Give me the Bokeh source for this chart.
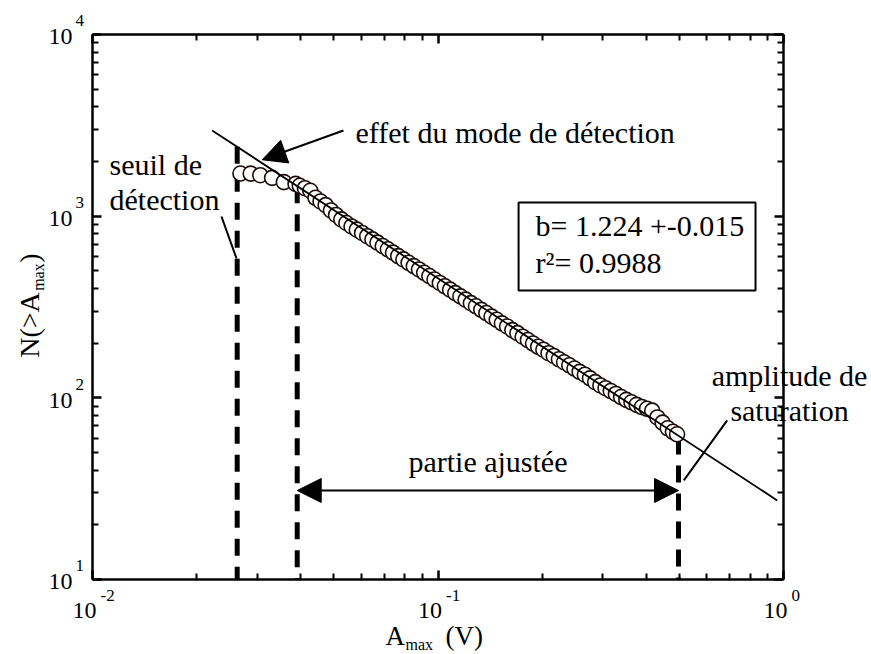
import math
from bokeh.plotting import figure
from bokeh.layouts import column
from bokeh.models import (LogAxis, FixedTicker, CustomJSTickFormatter, Label, Arrow,
                          NormalHead, BoxAnnotation, Range1d)
from bokeh.embed import file_html
from bokeh.resources import INLINE

# ---------------- data ----------------
amax = [0.0268, 0.0287, 0.0306, 0.0331, 0.0358, 0.0387, 0.0398, 0.0412, 0.0427, 0.0442,
        0.0457, 0.0473, 0.0490, 0.0507, 0.0525, 0.0543, 0.0562, 0.0582, 0.0603, 0.0624,
        0.0646, 0.0668, 0.0692, 0.0716, 0.0741, 0.0767, 0.0794, 0.0822, 0.0851, 0.0881,
        0.0912, 0.0944, 0.0977, 0.1012, 0.1047, 0.1084, 0.1122, 0.1161, 0.1202, 0.1245,
        0.1288, 0.1334, 0.1380, 0.1429, 0.1479, 0.1531, 0.1585, 0.1641, 0.1698, 0.1758,
        0.1820, 0.1884, 0.1950, 0.2018, 0.2089, 0.2163, 0.2239, 0.2317, 0.2399, 0.2483,
        0.2570, 0.2661, 0.2754, 0.2851, 0.2951, 0.3055, 0.3162, 0.3273, 0.3388, 0.3508,
        0.3631, 0.3758, 0.3890, 0.4027, 0.4169, 0.4315, 0.4467, 0.4624, 0.4786, 0.4920]
n_cum = [1717, 1715, 1680, 1625, 1540, 1505, 1470, 1425, 1380, 1262,
         1205, 1150, 1075, 1015, 960, 917, 878, 843, 808, 776,
         745, 715, 685, 657, 630, 603, 578, 554, 531, 509,
         488, 468, 448, 429, 411, 394, 377, 362, 347, 332,
         319, 305, 293, 280, 269, 257, 247, 236, 227, 217,
         208, 199, 191, 184, 176, 170, 163, 157, 151, 145,
         139, 134, 128, 122, 117, 113, 109, 105, 101, 97.5,
         94.5, 91.5, 89, 87, 85, 78, 73, 68, 65, 63]

# power-law fit line (b = 1.224)
fit_x = [0.02220, 0.9590]
fit_y = [2963, 27.25]

# vertical dashed markers: detection threshold, start of fit, saturation
marker_x = [0.02623, 0.03913, 0.4967]
marker_top = [2408, 1463, 60.5]
marker_bottom = [10, 10, 10]

x_tick_values = [0.01, 0.1, 1]
x_tick_exponents = ["-2", "-1", "0"]
y_tick_values = [10, 100, 1000, 10000]
y_tick_exponents = ["1", "2", "3", "4"]

FONT = "Liberation Serif"
W, H = 871, 654
XMIN, XMAX, YMIN, YMAX = 0.01, 1.0, 10.0, 10000.0
# axes box in canvas pixels
FL, FT, FW, FH = 92, 34, 691, 545
DX = FW / (math.log10(XMAX) - math.log10(XMIN))
DY = FH / (math.log10(YMAX) - math.log10(YMIN))

# ---------------- text layer (bottom), frame covers the whole canvas ----------------
x2_lo = 10 ** (math.log10(XMIN) - FL / DX)
x2_hi = 10 ** (math.log10(XMAX) + (W - FL - FW) / DX)
y2_hi = 10 ** (math.log10(YMAX) + FT / DY)
y2_lo = 10 ** (math.log10(YMIN) - (H - FT - FH) / DY)
q = figure(x_axis_type="log", y_axis_type="log",
           x_axis_location=None, y_axis_location=None,
           x_range=Range1d(x2_lo, x2_hi), y_range=Range1d(y2_lo, y2_hi),
           frame_width=W, frame_height=H,
           min_border_left=0, min_border_right=0, min_border_top=0, min_border_bottom=0,
           output_backend="svg", toolbar_location=None,
           background_fill_color="white", border_fill_color="white",
           outline_line_color=None)
q.grid.visible = False
try:
    q.frame_align = False  # keep this layer's frame on the full canvas
except Exception:
    pass

# ---------------- main plot (top, transparent): axes + data ----------------
p = figure(x_axis_type="log", y_axis_type="log",
           x_range=Range1d(XMIN, XMAX), y_range=Range1d(YMIN, YMAX),
           frame_width=FW, frame_height=FH,
           min_border_left=FL, min_border_right=W - FL - FW,
           min_border_top=FT, min_border_bottom=H - FT - FH,
           output_backend="svg", toolbar_location=None,
           background_fill_color=None, border_fill_color=None,
           outline_line_color=None)
p.grid.visible = False

x_minor = [m * 10.0 ** e for e in (-2, -1) for m in range(2, 10)]
y_minor = [m * 10.0 ** e for e in (1, 2, 3) for m in range(2, 10)]

p.add_layout(LogAxis(), "above")
p.add_layout(LogAxis(), "right")

blank = CustomJSTickFormatter(code="return ''")
for ax in p.xaxis:
    ax.ticker = FixedTicker(ticks=x_tick_values, minor_ticks=x_minor)
for ax in p.yaxis:
    ax.ticker = FixedTicker(ticks=y_tick_values, minor_ticks=y_minor)
for ax in list(p.xaxis) + list(p.yaxis):
    ax.formatter = blank
    ax.axis_label = None
    ax.axis_line_width = 2.5
    ax.axis_line_color = "black"
    ax.major_tick_in = 9
    ax.major_tick_out = 0
    ax.minor_tick_in = 6
    ax.minor_tick_out = 0
    ax.major_tick_line_width = 2.5
    ax.minor_tick_line_width = 2
    ax.major_tick_line_color = "black"
    ax.minor_tick_line_color = "black"
    ax.major_label_standoff = 0
    ax.major_label_text_font_size = "1px"

# dashed markers
p.segment(x0=marker_x, y0=marker_top, x1=marker_x, y1=marker_bottom,
          line_color="black", line_width=5, line_dash="17 11")

# data
p.scatter(amax, n_cum, marker="circle", size=15, fill_color="white",
          line_color="#1c0c0c", line_width=1.6)

# fit line
p.line(fit_x, fit_y, line_color="black", line_width=1.8)

K = 0.28  # baseline correction factor (fraction of font size)


def lab(plot, text, x, y, size, align="left", xo=0.0, yo=0.0, angle=0.0, **kw):
    """Label anchored in data units; (xo, yo) screen offsets, yo positive = up."""
    if angle == 0:
        yo = yo + K * size
    else:
        xo = xo - K * size
    l = Label(x=x, y=y, text=text, x_offset=xo, y_offset=yo, text_font=FONT,
              text_font_size=f"{size}px", text_align=align, text_baseline="alphabetic",
              angle=angle, text_color="black", **kw)
    plot.add_layout(l)
    return l


# tick labels 10^n
for v, e in zip(x_tick_values, x_tick_exponents):
    lab(q, "10", v, YMIN, 24, align="center", xo=-8, yo=-38)
    lab(q, e, v, YMIN, 17, xo=8, yo=-21)
for v, e in zip(y_tick_values, y_tick_exponents):
    lab(q, "10", XMIN, v, 24, align="right", xo=-20, yo=-9)
    lab(q, e, XMIN, v, 17, xo=-17, yo=9)

# axis titles
lab(q, "A", 0.1, YMIN, 27, xo=-52.5, yo=-64)
lab(q, "max", 0.1, YMIN, 16, xo=-32.5, yo=-69)
lab(q, "(V)", 0.1, YMIN, 27, xo=7.5, yo=-64)
lab(q, "N(>A", XMIN, 100, 28, xo=-55, yo=40, angle=math.pi / 2)
lab(q, "max", XMIN, 100, 16, xo=-50, yo=107, angle=math.pi / 2)
lab(q, ")", XMIN, 100, 28, xo=-55, yo=135, angle=math.pi / 2)

# ---------------- annotations ----------------
lab(p, "effet du mode de détection", 0.05771, 2609, 30)
p.add_layout(Arrow(end=NormalHead(size=24, fill_color="black", line_color="black"),
                   x_start=0.05326, y_start=2963, x_end=0.03098, y_end=2044,
                   line_width=2, line_color="black"))

lab(p, "seuil de", 0.01120, 1720, 30)
lab(p, "détection", 0.01120, 1116, 30)
p.add_layout(Arrow(end=None, x_start=0.02362, y_start=996, x_end=0.02611, y_end=585,
                   line_width=2, line_color="black"))

p.add_layout(BoxAnnotation(left=0.1711, right=0.8299, top=1190, bottom=390,
                           fill_color="white", fill_alpha=1, line_color="black",
                           line_alpha=1, line_width=2))
lab(p, "b= 1.224 +-0.015", 0.1915, 795, 30)
lab(p, "r²= 0.9988", 0.1915, 502, 30)

lab(q, "amplitude de", 1.041, 120, 30, align="center")
lab(q, "saturation", 1.041, 77.0, 30, align="center")
p.add_layout(Arrow(end=None, x_start=0.6871, y_start=75.1, x_end=0.5146, y_end=35.1,
                   line_width=2, line_color="black"))

lab(p, "partie ajustée", 0.1395, 40.3, 30, align="center")
p.add_layout(Arrow(start=NormalHead(size=24, fill_color="black", line_color="black"),
                   end=NormalHead(size=24, fill_color="black", line_color="black"),
                   x_start=0.03913, y_start=30.9, x_end=0.4967, y_end=30.9,
                   line_width=2, line_color="black"))

# the transparent main plot is laid exactly over the text layer
q.margin = (0, 0, 0, 0)
p.margin = (-H, 0, 0, 0)
layout = column(q, p)
open("out.html", "w").write(file_html(layout, INLINE))
